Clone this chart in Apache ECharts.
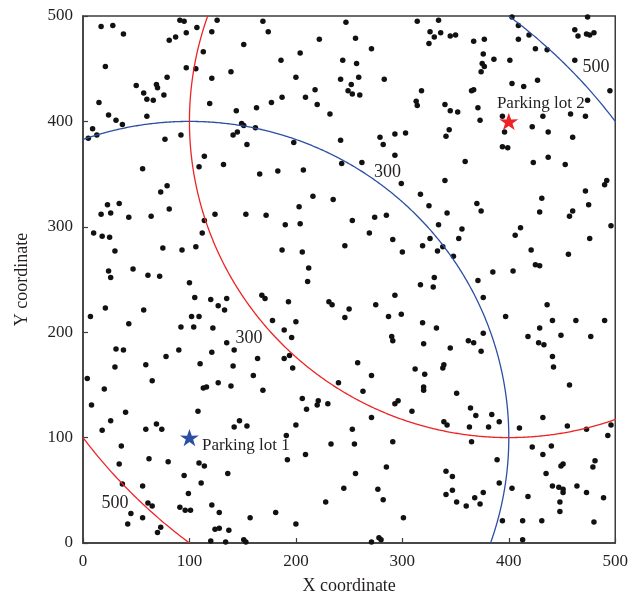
<!DOCTYPE html>
<html><head><meta charset="utf-8">
<script src="https://cdn.jsdelivr.net/npm/echarts@6/dist/echarts.min.js"></script>
<style>html,body{margin:0;padding:0;background:#fff}#c{width:631px;height:600px}</style>
</head><body><div id="c"></div>
<script>
// ---- data ----
const axisMin = 0, axisMax = 500, axisStep = 100;
const xAxisName = 'X coordinate';
const yAxisName = 'Y coordinate';

const customers = [
[17,490],[28,491],[38,483],[91,496],[95,495],[126,496],[107,489],[97,484],[87,480],[81,477],[121,485],[113,466],[21,452],[97,451],[106,450],[121,441],[79,442],[50,434],[69,435],[70,432],[57,427],[76,425],[60,421],[66,420],[15,418],[119,417],[24,406],[60,405],[31,401],[37,397],[9,393],[13,387],[5,384],[77,383],[92,387],[114,367],[109,357],[56,355],[79,339],
[169,495],[247,494],[174,485],[151,473],[222,478],[204,465],[186,458],[244,458],[139,447],[200,442],[242,440],[252,435],[249,429],[253,426],[218,430],[187,423],[209,423],[177,418],[163,413],[220,416],[144,410],[232,407],[149,398],[151,396],[162,394],[145,390],[141,387],[154,378],[198,380],[242,382],[243,360],[132,359],[166,350],[183,353],[207,354],
[314,495],[334,496],[256,479],[326,485],[336,484],[330,480],[325,474],[345,481],[350,482],[271,469],[367,476],[377,478],[376,464],[257,455],[375,455],[377,452],[374,447],[259,442],[283,440],[260,425],[318,429],[313,419],[314,415],[365,429],[367,430],[340,416],[345,410],[352,409],[371,413],[373,401],[279,385],[282,378],[293,388],[303,389],[344,392],[341,386],[293,368],[262,361],[359,362],[299,341],[340,344],
[403,499],[474,499],[409,491],[462,487],[465,481],[473,483],[476,482],[480,484],[409,478],[419,482],[425,469],[436,468],[386,459],[401,458],[462,458],[403,436],[414,433],[427,439],[495,429],[474,420],[394,405],[396,390],[432,405],[458,407],[472,405],[422,395],[437,390],[460,385],[394,376],[399,375],[437,366],[423,361],[453,359],[492,344],[490,340],
[73,333],[23,321],[34,322],[17,312],[26,313],[43,309],[64,310],[81,317],[114,306],[124,312],[10,294],[18,291],[25,290],[112,294],[30,277],[75,280],[93,278],[106,281],[24,258],[26,252],[47,260],[61,254],[72,253],[100,247],[105,233],[120,231],[21,223],[57,221],[7,215],[43,208],[102,215],[109,215],[92,205],[104,205],[122,204],[31,184],[38,183],[78,177],[90,183],[121,181],
[153,312],[172,311],[216,329],[235,326],[203,319],[190,302],[204,303],[253,306],[246,282],[187,278],[206,276],[212,261],[211,248],[168,235],[171,232],[135,232],[127,225],[133,221],[193,229],[231,229],[234,226],[250,222],[246,214],[178,211],[200,210],[189,202],[196,195],[135,190],[142,183],[164,175],[189,175],[194,178],
[317,331],[325,320],[342,313],[370,322],[374,315],[274,309],[285,311],[269,294],[291,288],[334,302],[356,298],[353,289],[326,289],[319,282],[338,281],[333,277],[348,272],[300,276],[330,252],[317,245],[329,243],[371,249],[376,233],[293,235],[275,226],[287,215],[299,217],[319,209],[332,204],[290,196],[291,192],[320,189],[345,185],[362,192],[367,190],[376,199],[374,182],
[472,334],[431,327],[475,321],[429,314],[460,315],[457,310],[496,301],[411,299],[406,292],[476,289],[421,278],[456,274],[425,264],[429,263],[385,257],[404,258],[436,226],[397,215],[441,211],[463,211],[490,211],[429,204],[418,196],[449,197],[477,196],[428,190],[433,188],[441,177],
[59,169],[110,170],[30,167],[4,156],[65,154],[20,146],[113,147],[116,148],[8,131],[40,124],[108,125],[26,116],[18,107],[59,108],[69,113],[74,108],[36,92],[62,80],[80,77],[34,75],[109,76],[114,73],[95,64],[37,56],[56,54],[111,57],[99,47],[61,38],[65,35],[91,34],[96,31],[101,31],[121,36],[45,28],[56,24],[42,18],[73,15],[70,10],[124,13],[120,2],
[141,168],[197,166],[127,152],[139,149],[160,159],[169,145],[240,152],[206,137],[210,127],[221,135],[220,131],[230,132],[147,116],[142,110],[154,111],[200,112],[191,102],[253,108],[233,94],[192,79],[209,84],[136,66],[245,52],[228,39],[128,29],[157,24],[181,29],[200,18],[128,14],[137,12],[134,1],[151,3],[153,1],
[258,171],[271,159],[312,165],[321,160],[339,169],[338,166],[320,148],[320,145],[263,144],[296,135],[293,132],[351,142],[309,125],[364,128],[369,121],[271,119],[339,115],[342,112],[363,110],[255,94],[291,96],[365,96],[285,72],[256,66],[341,68],[347,63],[277,51],[347,50],[341,46],[282,41],[376,48],[368,43],[351,39],[360,35],[373,37],[301,24],[271,1],[278,5],[280,3],
[442,167],[457,150],[384,122],[391,115],[381,110],[410,109],[432,119],[455,111],[473,108],[496,112],[493,102],[422,91],[440,92],[432,84],[389,79],[481,78],[451,75],[449,73],[479,72],[435,66],[391,57],[403,52],[441,54],[447,53],[451,51],[451,48],[464,54],[473,48],[489,43],[418,44],[448,39],[448,30],[394,21],[413,21],[431,21],[480,20],[413,3]
];

const lotNames = ['Parking lot 1', 'Parking lot 2'];
const lotX = [100, 400];
const lotY = [100, 400];
const rangeRadii = [300, 500];
const rangeLabelText = ['300', '300', '500', '500'];
const rangeLabelX = [286, 156, 482, 30];
const rangeLabelY = [352, 194, 451, 38];

// ---- styles ----
const lotColors = ['#2c4ea3', '#ee2326'];
const ink = '#231f20';
const axisCol = '#3c3c3c';
const serif = '"Liberation Serif", "DejaVu Serif", serif';
const starPath = 'path://M50,0 L61.8,35.1 L97.6,34.5 L68.5,55.9 L79.4,90.5 L50,69.1 L20.6,90.5 L31.5,55.9 L2.4,34.5 L38.2,35.1 Z';

function circleSeries(i, r) {
  return {
    type: 'custom', clip: true, silent: true, z: 3,
    data: [[lotX[i], lotY[i], r]],
    renderItem: function (params, api) {
      const cx = api.value(0), cy = api.value(1), rr = api.value(2);
      const pts = [];
      for (let k = 0; k <= 1440; k++) {
        const t = k / 1440 * 2 * Math.PI;
        pts.push(api.coord([cx + rr * Math.cos(t), cy + rr * Math.sin(t)]));
      }
      return { type: 'polyline', shape: { points: pts },
        style: { stroke: lotColors[i], lineWidth: 1.3, fill: null } };
    }
  };
}

const series = [
  { type: 'scatter', data: customers, symbol: 'circle', symbolSize: 5.5,
    itemStyle: { color: '#111', opacity: 1 }, z: 2, silent: true }
];
for (let i = 0; i < lotNames.length; i++) {
  for (const r of rangeRadii) series.push(circleSeries(i, r));
}
series.push({
  type: 'scatter', silent: true, z: 5,
  data: lotNames.map((n, i) => ({
    name: n, value: [lotX[i], lotY[i]],
    itemStyle: { color: lotColors[i], opacity: 1 },
    label: i === 0
      ? { show: true, position: 'right', distance: 3, offset: [0, 8] }
      : { show: true, position: 'top', distance: 1, offset: [32, 0] }
  })),
  symbol: starPath, symbolSize: [19, 18], symbolKeepAspect: true,
  label: { formatter: '{b}', color: ink, fontFamily: serif, fontSize: 17, opacity: 1 }
});
series.push({
  type: 'scatter', silent: true, z: 6, symbolSize: 0,
  itemStyle: { opacity: 1 },
  data: rangeLabelText.map((t, i) => ({ name: t, value: [rangeLabelX[i], rangeLabelY[i]] })),
  label: { show: true, position: 'inside', formatter: '{b}', color: ink, fontFamily: serif, fontSize: 18, opacity: 1 }
});

function axis(name, gap, rotate) {
  return {
    type: 'value', min: axisMin, max: axisMax, interval: axisStep,
    name: name, nameLocation: 'middle', nameGap: gap, nameRotate: rotate,
    nameTextStyle: { color: ink, fontFamily: serif, fontSize: 18 },
    axisLine: { show: true, lineStyle: { color: axisCol, width: 1.5 } },
    axisTick: { show: true, inside: true, length: 5, lineStyle: { color: axisCol, width: 1.2 } },
    axisLabel: { color: ink, fontFamily: serif, fontSize: 17, margin: 10 },
    splitLine: { show: false }
  };
}

const chart = echarts.init(document.getElementById('c'), null, { renderer: 'canvas' });
chart.setOption({
  animation: false,
  backgroundColor: '#fff',
  grid: { left: 83, right: 11, top: 16, bottom: 55, show: true, borderColor: axisCol, borderWidth: 1.5, backgroundColor: 'transparent' },
  xAxis: axis(xAxisName, 34, 0),
  yAxis: axis(yAxisName, 52, 90),
  series: series
});
</script></body></html>
